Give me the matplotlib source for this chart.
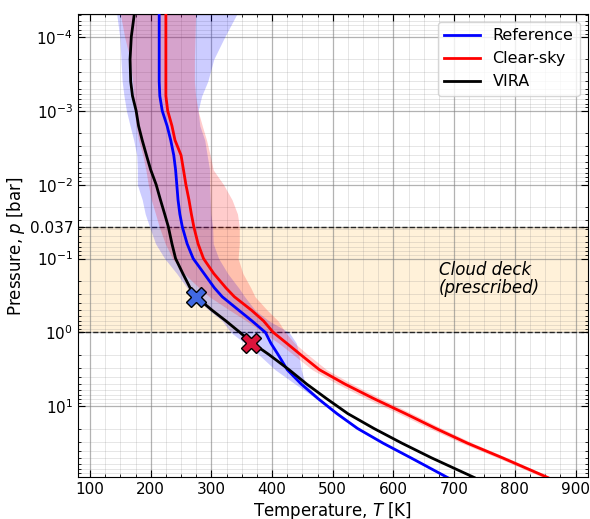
import numpy as np
import matplotlib
matplotlib.use('Agg')
import matplotlib.pyplot as plt
from matplotlib.ticker import MultipleLocator, LogLocator, NullFormatter

# pressure levels [bar]
p_bar = [4.9e-5, 1e-4, 2e-4, 4e-4, 6.3e-4, 1e-3, 1.6e-3, 2.5e-3, 4e-3, 6.3e-3,
         0.01, 0.016, 0.025, 0.037, 0.063, 0.1, 0.16, 0.25, 0.33, 0.5, 0.7,
         1.0, 1.4, 2.0, 3.2, 5.0, 7.9, 12.6, 20.0, 31.6, 50.0, 92.0]

t_vira = [173, 168, 166, 167, 170, 176, 180, 186, 193, 200,
          209, 216, 223, 229, 235, 241, 253, 265, 275, 301, 324,
          347, 368, 395, 428, 457, 490, 525, 568, 614, 663, 733]

t_ref = [214, 214, 214, 214, 215, 219, 227, 233, 238, 241,
         243, 245, 248, 252, 260, 270, 288, 305, 318, 345, 367,
         389, 398, 410, 425, 448, 476, 507, 541, 583, 629, 689]
t_ref_lo = [144, 149, 151, 153, 156, 160, 166, 172, 177, 178,
            178, 186, 191, 198, 208, 223, 243, 260, 270, 296, 318,
            332, 355, 378, 405, 438, 473, 504, 538, 580, 626, 686]
t_ref_hi = [342, 322, 304, 294, 284, 278, 281, 289, 293, 297,
            297, 298, 299, 302, 303, 312, 327, 345, 355, 372, 395,
            428, 440, 444, 448, 455, 479, 510, 544, 586, 632, 692]

t_clear = [225, 225, 225, 225, 225, 228, 235, 240, 250, 254,
           258, 263, 267, 271, 278, 287, 304, 324, 338, 366, 386,
           402, 424, 447, 478, 520, 568, 620, 670, 722, 780, 854]
t_clear_lo = [150, 157, 166, 170, 172, 173, 176, 180, 187, 192,
              196, 201, 208, 214, 224, 236, 255, 280, 297, 330, 358,
              385, 411, 435, 466, 508, 556, 609, 660, 713, 772, 847]
t_clear_hi = [274, 273, 272, 272, 274, 278, 285, 292, 298, 303,
              320, 334, 343, 346, 346, 344, 352, 365, 372, 392, 410,
              422, 437, 459, 490, 532, 580, 631, 680, 731, 788, 861]

cloud_top = 0.037
cloud_base = 1.0
x_marks = [(275, 0.33, 'royalblue'), (366, 1.39, 'crimson')]


def make_plot():
    fig = plt.figure(figsize=(5.9, 5.19), dpi=100)
    ax = fig.add_axes([0.132, 0.080, 0.864, 0.893])

    ax.axhspan(cloud_top, cloud_base, color='orange', alpha=0.15, lw=0, zorder=0)
    ax.axhline(cloud_top, color='k', ls='--', lw=1, alpha=0.8, zorder=1)
    ax.axhline(cloud_base, color='k', ls='--', lw=1, alpha=0.8, zorder=1)

    ax.fill_betweenx(p_bar, t_ref_lo, t_ref_hi, color='blue', alpha=0.2, lw=0, zorder=2)
    ax.fill_betweenx(p_bar, t_clear_lo, t_clear_hi, color='red', alpha=0.2, lw=0, zorder=2)

    ax.plot(t_ref, p_bar, color='blue', lw=2, label='Reference', zorder=4)
    ax.plot(t_clear, p_bar, color='red', lw=2, label='Clear-sky', zorder=4)
    ax.plot(t_vira, p_bar, color='k', lw=2, label='VIRA', zorder=4)

    for t, p, c in x_marks:
        ax.plot(t, p, marker='X', ms=15, mfc=c, mec='k', mew=1, ls='none', zorder=5)

    ax.text(675, 0.19, 'Cloud deck\n(prescribed)', style='italic', fontsize=12,
            va='center', ha='left', linespacing=1.05)

    ax.set_yscale('log')
    ax.set_ylim(92, 4.9e-5)
    ax.set_xlim(80, 920)

    ax.set_xticks(range(100, 1000, 100))
    ax.xaxis.set_minor_locator(MultipleLocator(25))
    yt = [1e-4, 1e-3, 1e-2, cloud_top, 1e-1, 1, 10]
    ax.set_yticks(yt)
    ax.set_yticklabels(['$10^{-4}$', '$10^{-3}$', '$10^{-2}$', '0.037',
                        '$10^{-1}$', '$10^{0}$', '$10^{1}$'])
    ax.yaxis.set_minor_locator(LogLocator(base=10, subs=np.arange(2, 10), numticks=20))
    ax.yaxis.set_minor_formatter(NullFormatter())

    ax.tick_params(which='both', direction='in', top=True, right=True, labelsize=11)
    ax.tick_params(which='major', length=5)
    ax.tick_params(which='minor', length=2.5)

    ax.grid(which='major', color='gray', alpha=0.6, lw=0.9)
    ax.grid(which='minor', color='gray', alpha=0.2, lw=0.7)
    ax.set_axisbelow(True)

    ax.set_xlabel('Temperature, $T$ [K]', fontsize=12, labelpad=2)
    ax.set_ylabel('Pressure, $p$ [bar]', fontsize=12, labelpad=2)
    ax.legend(loc='upper right', fontsize=11.5, handlelength=2.2)

    fig.savefig('out.png', dpi=100)


if __name__ == '__main__':
    make_plot()
